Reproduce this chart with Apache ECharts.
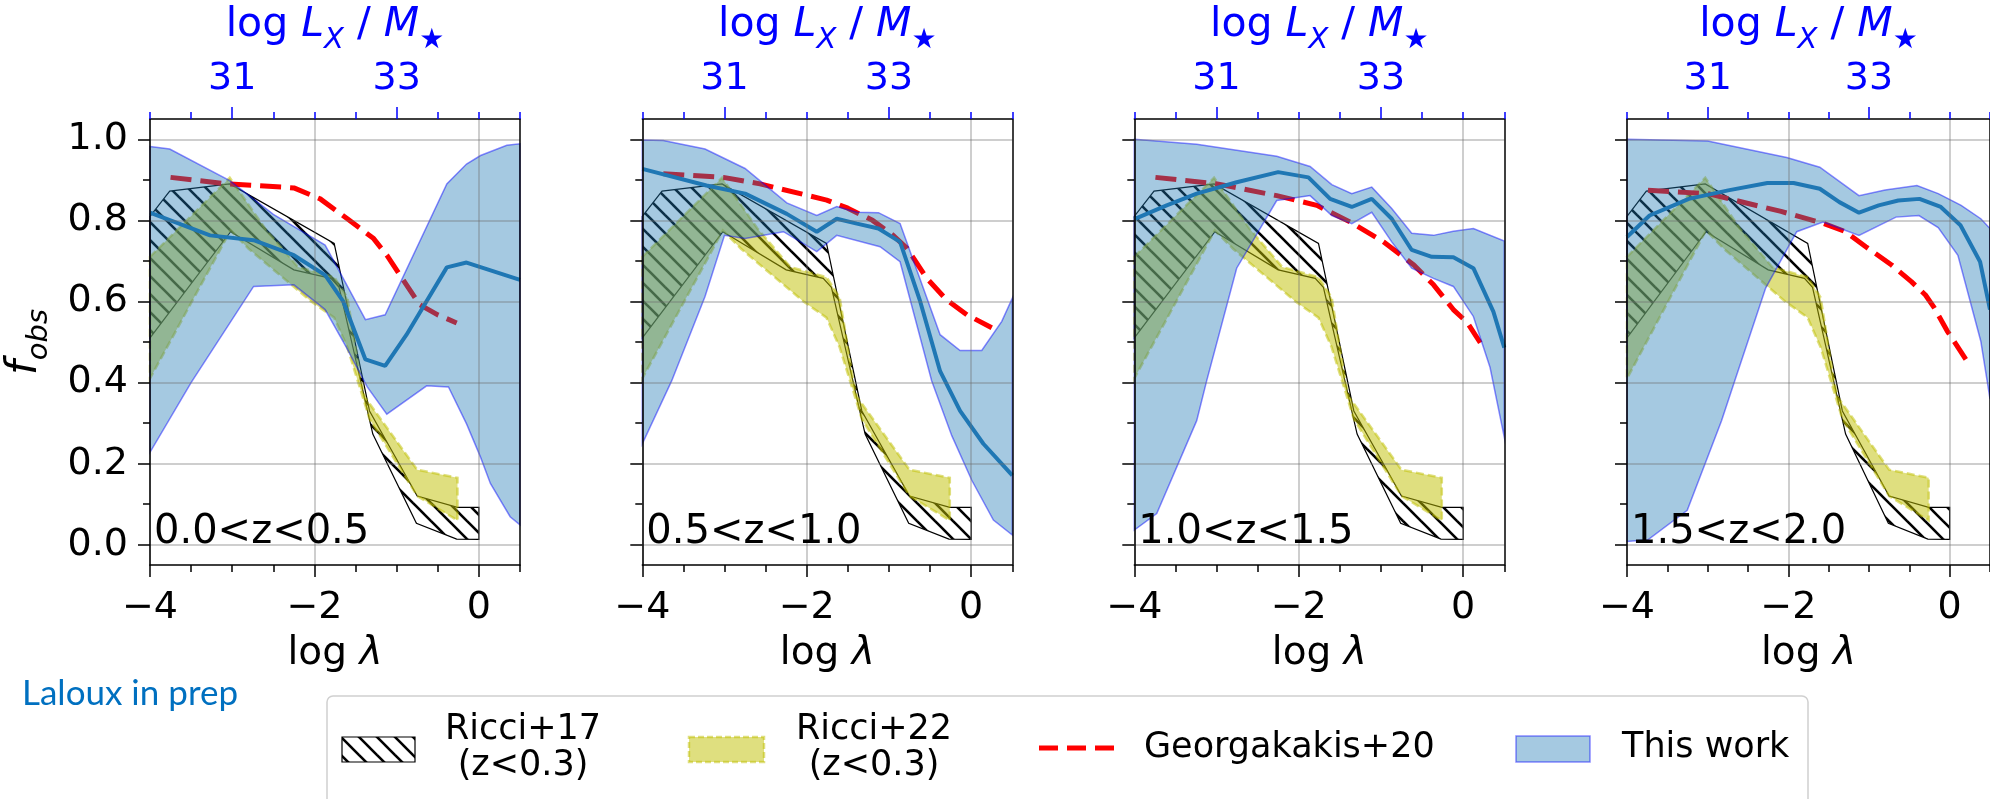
<!DOCTYPE html>
<html><head><meta charset="utf-8">
<script src="https://cdn.jsdelivr.net/npm/echarts@6/dist/echarts.min.js"></script>
<style>html,body{margin:0;padding:0;background:#fff}#c{width:1990px;height:799px}</style>
</head><body><div id="c"></div>
<script>
// ---------------- DATA ----------------
const zLabels = ['0.0<z<0.5', '0.5<z<1.0', '1.0<z<1.5', '1.5<z<2.0'];
const xMajorTicks = [-4, -2, 0];
const topMajorTicks = [31, 33];
const yMajorTicks = [0, 0.2, 0.4, 0.6, 0.8, 1.0];
const yMinorTicks = [0.1, 0.3, 0.5, 0.7, 0.9];

const ricci17Upper = [[-4,0.81],[-3.76,0.872],[-3.03,0.89],[-1.76,0.743],[-1.33,0.33],[-0.75,0.12],[-0.26,0.092],[0,0.092]];
const ricci17Lower = [[-4,0.51],[-3.02,0.772],[-2.25,0.678],[-1.8,0.657],[-1.7,0.635],[-1.29,0.273],[-0.76,0.053],[-0.27,0.014],[0,0.013]];
const ricci22Upper = [[-4,0.71],[-3.03,0.905],[-2.6,0.78],[-2.2,0.685],[-1.76,0.66],[-1.6,0.61],[-1.43,0.40],[-1.39,0.365],[-0.75,0.185],[-0.26,0.165]];
const ricci22Lower = [[-4,0.41],[-3.02,0.775],[-2.8,0.73],[-2.04,0.60],[-1.76,0.56],[-1.6,0.487],[-1.33,0.31],[-0.75,0.12],[-0.26,0.06]];

const p1Upper = [[-4,0.982],[-3.76,0.976],[-3.03,0.898],[-2.5,0.815],[-1.87,0.739],[-1.65,0.657],[-1.38,0.555],[-1.14,0.567],[-0.39,0.89],[-0.15,0.939],[0.02,0.96],[0.34,0.985],[0.5,0.989]];
const p1Lower = [[-4,0.228],[-3.5,0.40],[-2.74,0.637],[-2.25,0.641],[-1.87,0.58],[-1.61,0.486],[-1.36,0.39],[-1.12,0.322],[-0.635,0.392],[-0.37,0.389],[-0.15,0.298],[0.02,0.216],[0.14,0.151],[0.38,0.069],[0.5,0.049]];
const p1Median = [[-4,0.819],[-3.27,0.763],[-2.74,0.751],[-2.25,0.714],[-1.87,0.665],[-1.65,0.60],[-1.38,0.457],[-1.14,0.441],[-0.88,0.518],[-0.39,0.684],[-0.15,0.696],[0.5,0.653]];
const p1Georg = [[-3.75,0.906],[-3.07,0.89],[-2.38,0.882],[-2.25,0.88],[-1.93,0.853],[-1.6,0.804],[-1.28,0.755],[-1.12,0.714],[-0.96,0.665],[-0.72,0.592],[-0.5,0.567],[-0.27,0.547]];

const p2Upper = [[-4,0.998],[-3.745,0.997],[-3.237,0.976],[-2.75,0.928],[-2.243,0.843],[-1.878,0.812],[-1.635,0.834],[-1.39,0.82],[-1.128,0.819],[-0.865,0.792],[-0.378,0.518],[-0.135,0.479],[0.128,0.479],[0.372,0.551],[0.5,0.608]];
const p2Lower = [[-4,0.249],[-3.643,0.404],[-3.237,0.612],[-3.0,0.763],[-2.75,0.755],[-2.283,0.772],[-1.878,0.723],[-1.635,0.763],[-1.108,0.735],[-0.865,0.698],[-0.48,0.404],[-0.236,0.269],[0.007,0.159],[0.27,0.061],[0.5,0.024]];
const p2Median = [[-4,0.927],[-3.22,0.886],[-2.75,0.866],[-2.243,0.816],[-1.878,0.772],[-1.635,0.804],[-1.39,0.792],[-1.128,0.78],[-0.865,0.747],[-0.62,0.60],[-0.378,0.428],[-0.135,0.33],[0.148,0.249],[0.5,0.171]];
const p2Georg = [[-3.745,0.915],[-3.015,0.906],[-2.568,0.89],[-1.757,0.85],[-1.5,0.83],[-1.2,0.80],[-0.95,0.763],[-0.78,0.731],[-0.54,0.657],[-0.3,0.604],[-0.05,0.567],[0.25,0.535]];

const p3Upper = [[-4,1.0],[-3.241,0.988],[-2.268,0.958],[-1.862,0.933],[-1.598,0.888],[-1.355,0.866],[-1.112,0.882],[-0.869,0.829],[-0.626,0.768],[-0.362,0.763],[-0.119,0.773],[0.124,0.78],[0.5,0.749]];
const p3Lower = [[-4,0.036],[-3.727,0.077],[-3.241,0.306],[-3.12,0.404],[-2.755,0.682],[-2.268,0.849],[-1.862,0.861],[-1.598,0.812],[-1.355,0.792],[-1.112,0.82],[-0.869,0.747],[-0.626,0.682],[-0.362,0.657],[-0.119,0.637],[0.124,0.563],[0.327,0.437],[0.5,0.265]];
const p3Median = [[-4,0.803],[-3.606,0.837],[-3.241,0.866],[-2.755,0.894],[-2.25,0.919],[-1.882,0.906],[-1.618,0.853],[-1.355,0.833],[-1.112,0.853],[-0.869,0.804],[-0.626,0.727],[-0.382,0.71],[-0.119,0.709],[0.124,0.682],[0.367,0.575],[0.5,0.486]];
const p3Georg = [[-3.743,0.906],[-2.993,0.89],[-2.268,0.861],[-1.78,0.837],[-1.375,0.796],[-0.97,0.747],[-0.6,0.69],[-0.36,0.641],[-0.12,0.58],[0.05,0.548],[0.246,0.486]];

const p4Upper = [[-4,1.0],[-3.0,0.996],[-2.02,0.955],[-1.61,0.931],[-1.124,0.861],[-0.8,0.875],[-0.406,0.886],[-0.142,0.866],[0.142,0.837],[0.386,0.804],[0.5,0.78]];
const p4Lower = [[-4,0.008],[-3.74,0.012],[-3.253,0.085],[-2.828,0.306],[-2.665,0.404],[-2.281,0.633],[-1.896,0.772],[-1.571,0.796],[-1.124,0.763],[-0.665,0.808],[-0.381,0.812],[-0.142,0.782],[0.102,0.714],[0.386,0.502],[0.5,0.36]];
const p4Median = [[-4,0.759],[-3.72,0.812],[-3.233,0.853],[-2.746,0.874],[-2.26,0.892],[-1.935,0.892],[-1.61,0.878],[-1.367,0.845],[-1.124,0.819],[-0.88,0.837],[-0.637,0.849],[-0.374,0.853],[-0.11,0.833],[0.134,0.788],[0.377,0.698],[0.5,0.58]];
const p4Georg = [[-3.74,0.874],[-3.0,0.866],[-2.09,0.822],[-1.56,0.792],[-1.29,0.772],[-1.04,0.735],[-0.72,0.69],[-0.475,0.649],[-0.3,0.616],[-0.19,0.584],[-0.03,0.527],[0.215,0.453]];

const panelUpper = [p1Upper, p2Upper, p3Upper, p4Upper];
const panelLower = [p1Lower, p2Lower, p3Lower, p4Lower];
const panelMedian = [p1Median, p2Median, p3Median, p4Median];
const panelGeorg = [p1Georg, p2Georg, p3Georg, p4Georg];

// ---------------- LAYOUT / STYLE ----------------
const FONT = 'DejaVu Sans';
const TICK_FS = 38;
const panelLefts = [150, 642.3, 1134.3, 1627];
const PW = 370, PT = 116, PH = 449;
const gridColor = 'rgba(110,110,110,0.45)';
const blueFill = 'rgba(31,119,180,0.4)';
const blueEdge = 'rgba(0,0,255,0.45)';
const yellowFill = 'rgba(191,191,0,0.5)';

function makeHatch(s, lw) {
  const c = document.createElement('canvas'); c.width = s; c.height = s;
  const g = c.getContext('2d'); g.strokeStyle = '#000'; g.lineWidth = lw;
  for (const k of [-1, 0, 1]) { g.beginPath(); g.moveTo(-3, -3 + k * s); g.lineTo(s + 3, s + 3 + k * s); g.stroke(); }
  return c;
}
const hatch = makeHatch(18, 2.6);
const hatchFill = { image: hatch, repeat: 'repeat' };

const minus = v => (v < 0 ? '\u2212' + Math.abs(v) : String(v));

function band(i, upper, lower, style, z) {
  return {
    type: 'custom', xAxisIndex: 4 * i, yAxisIndex: 3 * i, z: z, silent: true,
    data: [[upper[0][0], upper[0][1]]],
    renderItem: function (params, api) {
      const pts = upper.map(p => api.coord(p)).concat(lower.slice().reverse().map(p => api.coord(p)));
      return { type: 'polygon', shape: { points: pts }, style: style };
    }
  };
}

const grids = [], xAxes = [], yAxes = [], series = [];
for (let i = 0; i < 4; i++) {
  grids.push({ left: panelLefts[i], top: PT, width: PW, height: PH, containLabel: false });
  xAxes.push({
    type: 'value', gridIndex: i, min: -4, max: 0.5, interval: 2, position: 'bottom', z: 10,
    axisLine: { show: true, onZero: false, lineStyle: { color: '#000', width: 1.5 } },
    axisTick: { show: true, length: 12, customValues: xMajorTicks, lineStyle: { color: '#000', width: 1.5 } },
    axisLabel: { show: true, customValues: xMajorTicks, margin: 24, fontSize: TICK_FS, fontFamily: FONT, color: '#000',
      formatter: v => (xMajorTicks.indexOf(v) >= 0 ? minus(v) : '') },
    splitLine: { show: true, lineStyle: { color: gridColor, width: 1.5 } },
    name: '{n|log }{i|\u03bb}', nameLocation: 'middle', nameGap: 69,
    nameTextStyle: { fontFamily: FONT, fontSize: 39, color: '#000',
      rich: { n: { fontFamily: FONT, fontSize: 39, color: '#000' }, i: { fontFamily: FONT, fontSize: 39, fontStyle: 'italic', color: '#000' } } }
  });
  xAxes.push({
    type: 'value', gridIndex: i, min: -4, max: 0.5, interval: 0.5, position: 'bottom', z: 10,
    axisLine: { show: false, onZero: false }, axisLabel: { show: false }, splitLine: { show: false },
    axisTick: { show: true, length: 7, lineStyle: { color: '#000', width: 1.5 } }
  });
  xAxes.push({
    type: 'value', gridIndex: i, min: 30, max: 34.5, interval: 1, position: 'top', z: 10,
    axisLine: { show: true, onZero: false, lineStyle: { color: '#000', width: 1.5 } },
    axisTick: { show: true, length: 12, customValues: topMajorTicks, lineStyle: { color: '#0000ff', width: 1.5 } },
    axisLabel: { show: true, customValues: topMajorTicks, margin: 21, fontSize: TICK_FS, fontFamily: FONT, color: '#0000ff',
      formatter: v => (topMajorTicks.indexOf(v) >= 0 ? String(v) : '') },
    splitLine: { show: false },
    name: '{n|log }{i|L}{s|X}{n| / }{i|M}{t|\u2605}', nameLocation: 'middle', nameGap: 64,
    nameTextStyle: { fontFamily: FONT, fontSize: 41, color: '#0000ff',
      rich: {
        n: { fontFamily: FONT, fontSize: 41, color: '#0000ff', lineHeight: 50, verticalAlign: 'top' },
        i: { fontFamily: FONT, fontSize: 41, fontStyle: 'italic', color: '#0000ff', lineHeight: 50, verticalAlign: 'top' },
        s: { fontFamily: FONT, fontSize: 29, fontStyle: 'italic', color: '#0000ff', verticalAlign: 'bottom', lineHeight: 29 },
        t: { fontFamily: FONT, fontSize: 28, color: '#0000ff', verticalAlign: 'bottom', lineHeight: 28 }
      } }
  });
  xAxes.push({
    type: 'value', gridIndex: i, min: 30, max: 34.5, interval: 0.5, position: 'top', z: 10,
    axisLine: { show: false, onZero: false }, axisLabel: { show: false }, splitLine: { show: false },
    axisTick: { show: true, length: 7, lineStyle: { color: '#0000ff', width: 1.5 } }
  });
  yAxes.push({
    type: 'value', gridIndex: i, min: -0.05, max: 1.05, splitNumber: 5, position: 'left', z: 10,
    axisLine: { show: true, onZero: false, lineStyle: { color: '#000', width: 1.5 } },
    axisTick: { show: true, length: 12, customValues: yMajorTicks, lineStyle: { color: '#000', width: 1.5 } },
    axisLabel: { show: i === 0, customValues: yMajorTicks, margin: 22, fontSize: TICK_FS, fontFamily: FONT, color: '#000',
      formatter: v => (Math.abs(Math.round(v * 5) - v * 5) < 1e-6 && v >= 0 && v <= 1 ? v.toFixed(1) : '') },
    splitLine: { show: true, lineStyle: { color: gridColor, width: 1.5 } },
    name: i === 0 ? '{i|f}{s|obs}' : '', nameLocation: 'middle', nameGap: 96, nameRotate: 90,
    nameTextStyle: { fontFamily: FONT, fontSize: 40, color: '#000',
      rich: {
        i: { fontFamily: FONT, fontSize: 42, fontStyle: 'italic', color: '#000', lineHeight: 50, verticalAlign: 'top' },
        s: { fontFamily: FONT, fontSize: 29, fontStyle: 'italic', color: '#000', verticalAlign: 'bottom', lineHeight: 29 }
      } }
  });
  yAxes.push({
    type: 'value', gridIndex: i, min: -0.05, max: 1.05, position: 'left', z: 10,
    axisLine: { show: false, onZero: false }, axisLabel: { show: false }, splitLine: { show: false },
    axisTick: { show: true, length: 7, customValues: yMinorTicks, lineStyle: { color: '#000', width: 1.5 } }
  });
  yAxes.push({
    type: 'value', gridIndex: i, min: -0.05, max: 1.05, position: 'right', z: 10,
    axisLine: { show: true, onZero: false, lineStyle: { color: '#000', width: 1.5 } },
    axisTick: { show: false }, axisLabel: { show: false }, splitLine: { show: false }
  });

  series.push(band(i, ricci17Upper, ricci17Lower, { fill: hatchFill, stroke: '#000', lineWidth: 1.2 }, 1));
  series.push(band(i, ricci22Upper, ricci22Lower, { fill: yellowFill, stroke: yellowFill, lineWidth: 2.5, lineDash: [8, 4] }, 2));
  series.push({
    type: 'line', xAxisIndex: 4 * i, yAxisIndex: 3 * i, z: 3, silent: true, showSymbol: false, symbol: 'none',
    data: panelGeorg[i], lineStyle: { color: '#ff0000', width: 5, type: [21, 9], cap: 'butt' }
  });
  series.push(band(i, panelUpper[i], panelLower[i], { fill: blueFill, stroke: blueEdge, lineWidth: 1.5 }, 4));
  series.push({
    type: 'line', xAxisIndex: 4 * i, yAxisIndex: 3 * i, z: 5, silent: true, showSymbol: false, symbol: 'none',
    data: panelMedian[i], lineStyle: { color: '#1f77b4', width: 4 }
  });
}

const graphics = [];
for (let i = 0; i < 4; i++) {
  graphics.push({ type: 'text', x: panelLefts[i] + 4, y: 533, z: 20,
    style: { text: zLabels[i], font: '40px "DejaVu Sans"', fill: '#000', verticalAlign: 'middle', align: 'left' } });
}
graphics.push({ type: 'text', x: 22, y: 694, z: 20,
  style: { text: 'Laloux in prep', font: '35px Lato', fill: '#0070c0', verticalAlign: 'middle', align: 'left' } });

const LF = '35px "DejaVu Sans"';
graphics.push({ type: 'rect', z: 20, shape: { x: 327, y: 696, width: 1481, height: 130, r: 6 },
  style: { fill: '#fff', stroke: '#d0d0d0', lineWidth: 1.5 } });
graphics.push({ type: 'rect', z: 21, shape: { x: 342, y: 737, width: 73, height: 25 },
  style: { fill: hatchFill, stroke: '#000', lineWidth: 1.2 } });
graphics.push({ type: 'text', x: 523, y: 730, z: 21, style: { text: 'Ricci+17', font: LF, fill: '#000', align: 'center', verticalAlign: 'middle' } });
graphics.push({ type: 'text', x: 523, y: 766, z: 21, style: { text: '(z<0.3)', font: LF, fill: '#000', align: 'center', verticalAlign: 'middle' } });
graphics.push({ type: 'rect', z: 21, shape: { x: 689, y: 737, width: 75, height: 25 },
  style: { fill: yellowFill, stroke: yellowFill, lineWidth: 2.5, lineDash: [6, 3] } });
graphics.push({ type: 'text', x: 874, y: 730, z: 21, style: { text: 'Ricci+22', font: LF, fill: '#000', align: 'center', verticalAlign: 'middle' } });
graphics.push({ type: 'text', x: 874, y: 766, z: 21, style: { text: '(z<0.3)', font: LF, fill: '#000', align: 'center', verticalAlign: 'middle' } });
graphics.push({ type: 'line', z: 21, shape: { x1: 1039, y1: 748, x2: 1114, y2: 748 },
  style: { stroke: '#ff0000', lineWidth: 5, lineDash: [19, 9] } });
graphics.push({ type: 'text', x: 1144, y: 748, z: 21, style: { text: 'Georgakakis+20', font: LF, fill: '#000', align: 'left', verticalAlign: 'middle' } });
graphics.push({ type: 'rect', z: 21, shape: { x: 1516, y: 736, width: 74, height: 26 },
  style: { fill: blueFill, stroke: blueEdge, lineWidth: 1.5 } });
graphics.push({ type: 'text', x: 1622, y: 748, z: 21, style: { text: 'This work', font: LF, fill: '#000', align: 'left', verticalAlign: 'middle' } });

const chart = echarts.init(document.getElementById('c'), null, { renderer: 'canvas' });
chart.setOption({
  animation: false,
  backgroundColor: '#fff',
  textStyle: { fontFamily: FONT },
  grid: grids, xAxis: xAxes, yAxis: yAxes, series: series, graphic: graphics
});
</script></body></html>
